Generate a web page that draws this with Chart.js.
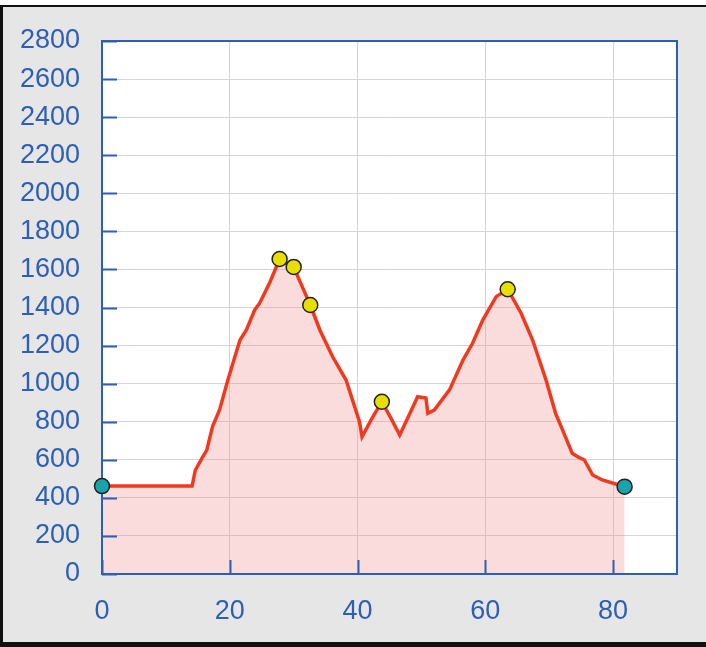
<!DOCTYPE html>
<html>
<head>
<meta charset="utf-8">
<script src="https://cdn.jsdelivr.net/npm/chart.js@4"></script>
<style>
  body { margin: 0; background: #ffffff; }
  #frame {
    position: absolute; left: 0; top: 5px;
    width: 720px; height: 635px;
    border-top: 2px solid #111; border-left: 3px solid #111; border-bottom: 5px solid #111;
    background: #e6e6e6;
  }
  #chart { position: absolute; left: 0; top: 0; }
</style>
</head>
<body>
<div id="frame"></div>
<canvas id="chart" width="706" height="647"></canvas>
<script>
// profil d'altitude : distance (km) / altitude (m)
const distance = [0, 14.1, 14.6, 15.5, 16.4, 17.3, 18.4, 19.7, 20.8, 21.6, 22.6, 23.9, 24.7, 26.3, 27.8,
    30.0, 31.2, 32.6, 34.1, 36.1, 38.2, 40.3, 40.7, 42.3, 43.8, 45.2, 46.6, 48.0, 49.4, 50.7, 51.0,
    52.0, 54.4, 56.5, 58.0, 59.6, 61.7, 63.5, 65.6, 67.4, 69.5, 71.0, 72.1, 73.6, 74.5, 75.5, 76.8,
    78.3, 80.4, 81.8];
const altitude = [462, 462, 545, 600, 651, 774, 862, 1019, 1141, 1229, 1282, 1387, 1424, 1534, 1655,
    1613, 1520, 1413, 1282, 1141, 1019, 800, 721, 820, 905, 820, 730, 830, 931, 924, 844,
    861, 967, 1124, 1212, 1334, 1457, 1496, 1370, 1229, 1019, 844, 756, 634, 615, 599, 520,
    494, 473, 459];

// points de passage (jaune) et départ / arrivée (bleu-vert)
const waypointX = [27.8, 30.0, 32.6, 43.8, 63.5];
const waypointY = [1655, 1613, 1413, 905, 1496];
const endsX = [0, 81.8];
const endsY = [462, 459];

const xTicks = [0, 20, 40, 60, 80];
const yTicks = [0, 200, 400, 600, 800, 1000, 1200, 1400, 1600, 1800, 2000, 2200, 2400, 2600, 2800];

const blue = '#2d5fb4';
const toPoints = (xs, ys) => xs.map((x, i) => ({ x: x, y: ys[i] }));

// fond blanc de la zone de tracé
const plotBg = {
    id: 'plotBg',
    beforeDraw(chart) {
        const { ctx, chartArea: a } = chart;
        ctx.save();
        ctx.fillStyle = '#ffffff';
        ctx.fillRect(a.left, a.top, a.right - a.left, a.bottom - a.top);
        ctx.restore();
    }
};

// cadre du graphique + graduations vers l'intérieur (dessinés avant les marqueurs)
const framePlugin = {
    id: 'framePlugin',
    beforeDatasetDraw(chart, args) {
        if (args.index !== 1) return;
        const { ctx, chartArea: a, scales } = chart;
        ctx.save();
        ctx.strokeStyle = blue;
        ctx.lineWidth = 2;
        ctx.beginPath();
        yTicks.forEach(v => {
            const y = Math.round(scales.y.getPixelForValue(v)) + 0.5;
            ctx.moveTo(a.left, y);
            ctx.lineTo(a.left + 15, y);
        });
        xTicks.forEach(v => {
            const x = Math.round(scales.x.getPixelForValue(v)) + 0.5;
            ctx.moveTo(x, a.bottom);
            ctx.lineTo(x, a.bottom - 14);
        });
        ctx.stroke();
        ctx.strokeRect(a.left, a.top, a.right - a.left, a.bottom - a.top);
        ctx.restore();
    }
};

new Chart(document.getElementById('chart'), {
    type: 'scatter',
    data: {
        datasets: [
            {
                type: 'line',
                data: toPoints(distance, altitude),
                borderColor: '#f03a1f',
                borderWidth: 3.5,
                backgroundColor: 'rgba(240,150,150,0.33)',
                fill: 'origin',
                pointRadius: 0,
                tension: 0,
                order: 2
            },
            {
                data: toPoints(waypointX, waypointY),
                backgroundColor: '#e8de00',
                borderColor: '#222',
                borderWidth: 1.5,
                pointRadius: 7.5,
                clip: false,
                order: 1
            },
            {
                data: toPoints(endsX, endsY),
                backgroundColor: '#18a4a8',
                borderColor: '#222',
                borderWidth: 1.5,
                pointRadius: 7.5,
                clip: false,
                order: 0
            }
        ]
    },
    options: {
        responsive: false,
        animation: false,
        layout: { padding: { top: 41, right: 29, left: 0, bottom: 0 } },
        plugins: { legend: { display: false }, tooltip: { enabled: false } },
        scales: {
            x: {
                type: 'linear',
                min: 0,
                max: 90,
                afterBuildTicks: s => { s.ticks = xTicks.map(v => ({ value: v })); },
                afterFit: s => { s.height = 73; },
                grid: { color: '#d4d4d4', lineWidth: 1, drawTicks: false },
                border: { display: false },
                ticks: {
                    color: blue, padding: 21,
                    font: { family: 'Liberation Sans', size: 27 },
                    callback: v => String(v)
                }
            },
            y: {
                min: 0,
                max: 2800,
                afterBuildTicks: s => { s.ticks = yTicks.map(v => ({ value: v })); },
                afterFit: s => { s.width = 102; },
                grid: { color: '#d4d4d4', lineWidth: 1, drawTicks: false },
                border: { display: false },
                ticks: {
                    color: blue, padding: 22,
                    font: { family: 'Liberation Sans', size: 27 },
                    callback: v => String(v)
                }
            }
        }
    },
    plugins: [plotBg, framePlugin]
});
</script>
</body>
</html>
